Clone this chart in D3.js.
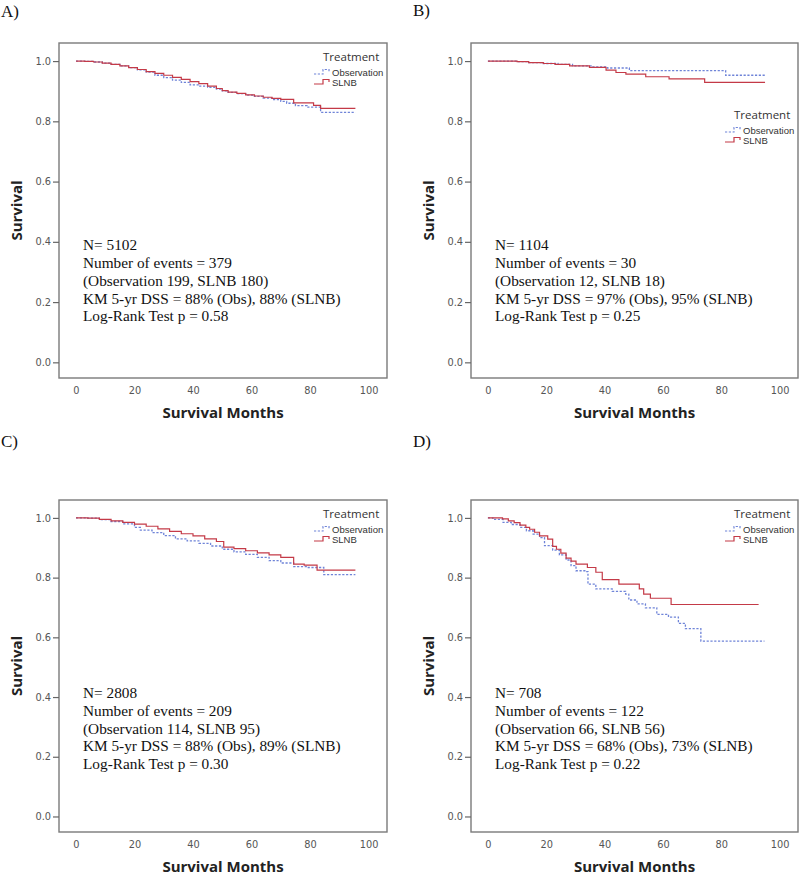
<!DOCTYPE html>
<html><head><meta charset="utf-8">
<script src="https://cdn.jsdelivr.net/npm/d3@7"></script>
<style>body{margin:0;background:#fff}</style>
</head><body><svg id="c" width="800" height="876"></svg>
<script>
const panelLabels = ["A)", "B)", "C)", "D)"];
const seriesNames = ["Observation", "SLNB"];
const xTicks = [0, 20, 40, 60, 80, 100];
const yTicks = [0, 0.2, 0.4, 0.6, 0.8, 1.0];

// [month, survival] step points
const A_obs = [[0,1],[3,0.999],[6,0.997],[9,0.993],[12,0.989],[15,0.984],[18,0.978],[21,0.971],[24,0.963],[27,0.953],[30,0.945],[33,0.937],[36,0.929],[39,0.921],[42,0.917],[45,0.913],[48,0.907],[50,0.901],[52,0.896],[55,0.892],[58,0.887],[61,0.883],[64,0.877],[67,0.872],[70,0.866],[72,0.86],[75,0.852],[79,0.847],[83.6,0.83],[95.5,0.83]];
const A_slnb = [[0,1],[3,0.999],[6,0.997],[9,0.993],[12,0.989],[15,0.984],[18,0.978],[21,0.972],[24,0.965],[27,0.959],[30,0.953],[33,0.946],[36,0.939],[39,0.932],[42,0.925],[45,0.917],[48,0.909],[50,0.902],[52,0.897],[55,0.893],[58,0.888],[61,0.884],[64,0.88],[67,0.876],[70,0.873],[74.4,0.861],[81.2,0.853],[83.6,0.843],[95.5,0.843]];
const B_obs = [[0,1],[10,0.998],[14,0.995],[19,0.992],[24,0.989],[29,0.984],[36,0.981],[41,0.977],[48.5,0.968],[81.5,0.953],[95,0.953]];
const B_slnb = [[0,1],[10,0.998],[14,0.995],[19,0.992],[23,0.989],[28,0.984],[34.8,0.979],[40.5,0.97],[43.9,0.962],[47.3,0.957],[54.1,0.948],[62.1,0.941],[74.3,0.929],[95,0.929]];
const C_obs = [[0,1],[4,0.999],[8,0.994],[12,0.988],[16,0.98],[20,0.968],[22,0.959],[26,0.951],[30,0.941],[34,0.93],[38,0.923],[42,0.915],[46,0.906],[50,0.895],[54,0.886],[58,0.878],[62,0.868],[66,0.857],[70,0.849],[74.4,0.837],[79,0.834],[84.7,0.81],[95.5,0.81]];
const C_slnb = [[0,1],[4,0.999],[8,0.995],[12,0.99],[16,0.985],[20,0.979],[24,0.972],[28,0.963],[32,0.955],[36,0.947],[40,0.94],[44,0.93],[48,0.921],[50.5,0.902],[54,0.897],[58,0.89],[62,0.883],[66,0.876],[70,0.868],[74.4,0.845],[78,0.842],[82.4,0.825],[95.5,0.825]];
const D_obs = [[0,1],[1.7,0.995],[5.2,0.985],[8,0.978],[11,0.968],[13.2,0.957],[15.5,0.946],[17.7,0.934],[19.4,0.907],[22.2,0.892],[24.5,0.876],[26.8,0.859],[28.5,0.84],[30.2,0.823],[33.6,0.82],[34.3,0.778],[37,0.762],[42.6,0.754],[47.2,0.745],[48.3,0.725],[51.1,0.712],[54,0.699],[57.9,0.677],[61.9,0.668],[65.3,0.647],[67.7,0.629],[73,0.587],[94.8,0.587]];
const D_slnb = [[0,1],[5,0.997],[7,0.99],[9,0.984],[11,0.976],[13,0.968],[14.3,0.962],[16,0.952],[17.7,0.94],[20.5,0.929],[22.2,0.905],[23.5,0.895],[25,0.882],[26.8,0.865],[28.5,0.855],[30.2,0.845],[34.1,0.834],[37,0.818],[39.2,0.793],[44.9,0.778],[51.9,0.762],[53.4,0.745],[55.7,0.731],[62.8,0.71],[92.8,0.71]];

const notesA = ["N= 5102", "Number of events = 379", "(Observation 199, SLNB 180)", "KM 5-yr DSS = 88% (Obs), 88% (SLNB)", "Log-Rank Test p = 0.58"];
const notesB = ["N= 1104", "Number of events = 30", "(Observation 12, SLNB 18)", "KM 5-yr DSS = 97% (Obs), 95% (SLNB)", "Log-Rank Test p = 0.25"];
const notesC = ["N= 2808", "Number of events = 209", "(Observation 114, SLNB 95)", "KM 5-yr DSS = 88% (Obs), 89% (SLNB)", "Log-Rank Test p = 0.30"];
const notesD = ["N= 708", "Number of events = 122", "(Observation 66, SLNB 56)", "KM 5-yr DSS = 68% (Obs), 73% (SLNB)", "Log-Rank Test p = 0.22"];

const panelSeries = [[A_obs, A_slnb], [B_obs, B_slnb], [C_obs, C_slnb], [D_obs, D_slnb]];
const panelNotes = [notesA, notesB, notesC, notesD];

// layout (positions only)
const layout = [
  {x0:59,  x1:387, y0:43,  y1:378, lx:1,   ly:17,  legTop:14, noteV:0.372},
  {x0:471, x1:798, y0:43,  y1:378, lx:413, ly:16,  legTop:72, noteV:0.372},
  {x0:59,  x1:387, y0:500, y1:832, lx:1,   ly:447, legTop:14, noteV:0.397},
  {x0:471, x1:798, y0:500, y1:832, lx:413, ly:447, legTop:14, noteV:0.397}
];
const colors = ["#6f84d8", "#c43a47"];
const dashes = ["2.2,1.6", null];

const svg = d3.select("#c");
svg.append("rect").attr("width",800).attr("height",876).attr("fill","#fff");

layout.forEach((L, i) => {
  const g = svg.append("g");
  const x = d3.scaleLinear().domain([-5.8, 106.3]).range([L.x0, L.x1]);
  const y = d3.scaleLinear().domain([-0.052, 1.06]).range([L.y1, L.y0]);

  g.append("text").attr("x", L.lx).attr("y", L.ly).text(panelLabels[i])
    .attr("font-family","Liberation Serif").attr("font-size",17).attr("fill","#111");

  g.append("rect").attr("x", L.x0).attr("y", L.y0).attr("width", L.x1-L.x0).attr("height", L.y1-L.y0)
    .attr("fill","none").attr("stroke","#7a7a7a").attr("stroke-width",1.4);

  const ya = g.append("g").attr("transform",`translate(${L.x0},0)`)
    .call(d3.axisLeft(y).tickValues(yTicks).tickFormat(d3.format(".1f")).tickSize(6).tickPadding(2));
  ya.select(".domain").remove();
  ya.selectAll("line").attr("stroke","#666").attr("stroke-width",1.2);
  ya.selectAll("text").attr("font-family","DejaVu Sans").attr("font-size",9.8).attr("fill","#555");

  const xa = g.append("g").attr("transform",`translate(0,${L.y1})`)
    .call(d3.axisBottom(x).tickValues(xTicks).tickSize(0).tickPadding(9));
  xa.select(".domain").remove();
  xa.selectAll("text").attr("font-family","DejaVu Sans").attr("font-size",9.8).attr("fill","#555");

  g.append("text").attr("x",(L.x0+L.x1)/2).attr("y",L.y1+40).attr("text-anchor","middle")
    .attr("font-family","Open Sans").attr("font-weight","bold").attr("font-size",15).attr("fill","#222")
    .text("Survival Months");
  g.append("text").attr("transform",`translate(${L.x0-37},${(L.y0+L.y1)/2}) rotate(-90)`)
    .attr("text-anchor","middle")
    .attr("font-family","Open Sans").attr("font-weight","bold").attr("font-size",15).attr("fill","#222")
    .text("Survival");

  const line = d3.line().x(d => x(d[0])).y(d => y(d[1])).curve(d3.curveStepAfter);
  panelSeries[i].forEach((s, k) => {
    g.append("path").datum(s).attr("d", line).attr("fill","none")
      .attr("stroke", colors[k]).attr("stroke-width", k===0 ? 1.3 : 1.2)
      .attr("stroke-dasharray", dashes[k]);
  });

  const t = g.append("text").attr("font-family","Liberation Serif").attr("font-size",15.3).attr("fill","#111");
  panelNotes[i].forEach((s, j) => {
    t.append("tspan").attr("x", L.x0 + 24).attr("y", y(L.noteV) + j*17.8).text(s);
  });

  const lx = L.x1 - 64, ly = L.y0 + L.legTop;
  g.append("text").attr("x", lx).attr("y", ly + 4).text("Treatment")
    .attr("font-family","Open Sans").attr("font-size",11.5).attr("fill","#333");
  seriesNames.forEach((n, k) => {
    const ty = ly + 15 + k*10;
    const tx = L.x1 - 55;
    g.append("text").attr("x", tx).attr("y", ty + 3.5).text(n)
      .attr("font-family","Liberation Sans").attr("font-size",9.5).attr("fill","#333");
    g.append("path")
      .attr("d", `M${tx-18},${ty+2}H${tx-9}V${ty-2.5}H${tx-3}V${ty}`)
      .attr("fill","none").attr("stroke",colors[k]).attr("stroke-width",1.2)
      .attr("stroke-dasharray", dashes[k]);
  });
});
</script>
</body></html>
